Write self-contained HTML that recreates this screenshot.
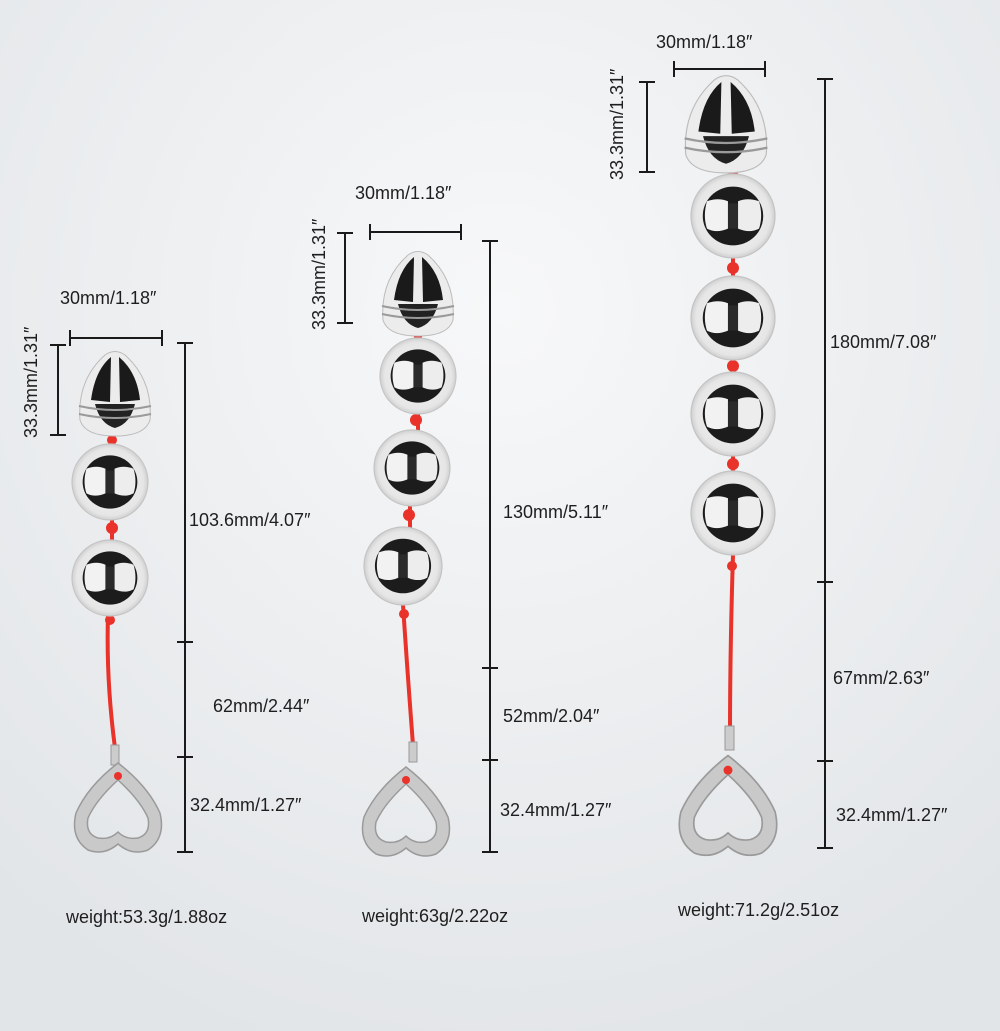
<!DOCTYPE html>
<html><head><meta charset="utf-8"><style>
html,body{margin:0;padding:0;width:1000px;height:1031px;overflow:hidden}
text{font-family:"Liberation Sans",sans-serif;font-size:18px;fill:#1e1e1e}
</style></head><body>
<svg width="1000" height="1031" viewBox="0 0 1000 1031" xmlns="http://www.w3.org/2000/svg">
<defs>
<radialGradient id="bg" cx="50%" cy="30%" r="75%">
<stop offset="0" stop-color="#f7f8f9"/><stop offset="1" stop-color="#e2e5e8"/></radialGradient>
<radialGradient id="ball" cx="50%" cy="50%" r="55%">
<stop offset="0" stop-color="#f4f4f4"/><stop offset="0.8" stop-color="#e6e6e6"/><stop offset="1" stop-color="#bdbdbd"/></radialGradient>
<g id="b">
<circle r="1" fill="url(#ball)" stroke="#c4c4c4" stroke-width="0.03"/>
<ellipse rx="0.72" ry="0.7" fill="#1c1c1c"/>
<path d="M-0.62,-0.35 Q-0.35,-0.45 -0.12,-0.35 L-0.12,0.3 Q-0.4,0.42 -0.62,0.3 Q-0.72,0 -0.62,-0.35 Z" fill="#f2f2f2"/>
<path d="M0.62,-0.35 Q0.35,-0.45 0.12,-0.35 L0.12,0.3 Q0.4,0.42 0.62,0.3 Q0.72,0 0.62,-0.35 Z" fill="#ededed"/>
<path d="M-0.12,-0.3 H0.12 V0.3 H-0.12 Z" fill="#2a2a2a"/>
</g>
<g id="tip">
<path d="M-35,30 Q-38,-10 -10,-35 Q0,-42 10,-35 Q38,-10 35,30 Q30,46 0,46 Q-30,46 -35,30 Z" fill="#ececec" stroke="#bbb" stroke-width="1"/>
<path d="M-24,10 Q-20,-20 -4,-33 L-5,12 Z" fill="#1a1a1a"/>
<path d="M4,-33 Q22,-18 25,10 L5,12 Z" fill="#1a1a1a"/>
<path d="M-20,14 H20 Q15,34 0,38 Q-15,34 -20,14 Z" fill="#222"/>
<path d="M-36,16 Q0,24 36,16 M-36,24 Q0,32 36,24" stroke="#9a9a9a" stroke-width="2" fill="none"/>
</g>
<g id="heart">
<path fill-rule="evenodd" fill="#c9c9c9" stroke="#9a9a9a" stroke-width="1.5"
 d="M0,-45 Q30,-22 42,5 Q48,30 30,42 Q14,48 0,36 Q-14,48 -30,42 Q-48,30 -42,5 Q-30,-22 0,-45 Z
 M0,-28 Q-22,-8 -30,10 Q-33,26 -20,30 Q-8,32 0,24 Q8,32 20,30 Q33,26 30,10 Q22,-8 0,-28 Z"/>
<circle cx="0" cy="-32" r="4" fill="#e8322a"/>
</g>
</defs>
<rect width="1000" height="1031" fill="url(#bg)"/>
<g stroke="#1a1a1a" stroke-width="2" fill="none">
<path d="M70,338H162M70,330V346M162,330V346"/>
<path d="M58,345V435M50,345H66M50,435H66"/>
<path d="M185,343V852M177,343H193M177,642H193M177,757H193M177,852H193"/>
<path d="M370,232H461M370,224V240M461,224V240"/>
<path d="M345,233V323M337,233H353M337,323H353"/>
<path d="M490,241V852M482,241H498M482,668H498M482,760H498M482,852H498"/>
<path d="M674,69H765M674,61V77M765,61V77"/>
<path d="M647,82V172M639,82H655M639,172H655"/>
<path d="M825,79V848M817,79H833M817,582H833M817,761H833M817,848H833"/>
</g>
<g stroke="#e8322a" stroke-width="4" fill="none" stroke-linecap="round">
<path d="M112,430V445M112,518V540M108,615 Q106,680 115,748"/>
<path d="M418,328V340M418,412V430M410,504V528M403,605 Q408,680 413,745"/>
<path d="M733,168V175M733,258V276M733,360V372M733,456V471M733,555 Q730,650 730,735"/>
</g>
<g fill="#e8322a">
<circle cx="112" cy="440" r="5"/><circle cx="112" cy="528" r="6"/><circle cx="110" cy="620" r="5"/>
<circle cx="418" cy="334" r="5"/><circle cx="416" cy="420" r="6"/><circle cx="409" cy="515" r="6"/><circle cx="404" cy="614" r="5"/>
<circle cx="733" cy="172" r="5"/><circle cx="733" cy="268" r="6"/><circle cx="733" cy="366" r="6"/><circle cx="733" cy="464" r="6"/><circle cx="732" cy="566" r="5"/>
</g>
<use href="#tip" transform="translate(115,390)"/>
<use href="#b" transform="translate(110,482) scale(38)"/>
<use href="#b" transform="translate(110,578) scale(38)"/>
<use href="#tip" transform="translate(418,290)"/>
<use href="#b" transform="translate(418,376) scale(38)"/>
<use href="#b" transform="translate(412,468) scale(38)"/>
<use href="#b" transform="translate(403,566) scale(39)"/>
<use href="#tip" transform="translate(726,120) scale(1.15)"/>
<use href="#b" transform="translate(733,216) scale(42)"/>
<use href="#b" transform="translate(733,318) scale(42)"/>
<use href="#b" transform="translate(733,414) scale(42)"/>
<use href="#b" transform="translate(733,513) scale(42)"/>
<rect x="111" y="745" width="8" height="20" fill="#ccc" stroke="#999"/>
<rect x="409" y="742" width="8" height="20" fill="#ccc" stroke="#999"/>
<rect x="725" y="726" width="9" height="24" fill="#ccc" stroke="#999"/>
<use href="#heart" transform="translate(118,808)"/>
<use href="#heart" transform="translate(406,812)"/>
<use href="#heart" transform="translate(728,806) scale(1.12)"/>
<text x="60" y="304">30mm/1.18″</text>
<text transform="translate(37,438) rotate(-90)">33.3mm/1.31″</text>
<text x="189" y="526">103.6mm/4.07″</text>
<text x="213" y="712">62mm/2.44″</text>
<text x="190" y="811">32.4mm/1.27″</text>
<text x="66" y="923">weight:53.3g/1.88oz</text>
<text x="355" y="199">30mm/1.18″</text>
<text transform="translate(325,330) rotate(-90)">33.3mm/1.31″</text>
<text x="503" y="518">130mm/5.11″</text>
<text x="503" y="722">52mm/2.04″</text>
<text x="500" y="816">32.4mm/1.27″</text>
<text x="362" y="922">weight:63g/2.22oz</text>
<text x="656" y="48">30mm/1.18″</text>
<text transform="translate(623,180) rotate(-90)">33.3mm/1.31″</text>
<text x="830" y="348">180mm/7.08″</text>
<text x="833" y="684">67mm/2.63″</text>
<text x="836" y="821">32.4mm/1.27″</text>
<text x="678" y="916">weight:71.2g/2.51oz</text>
</svg>
</body></html>
